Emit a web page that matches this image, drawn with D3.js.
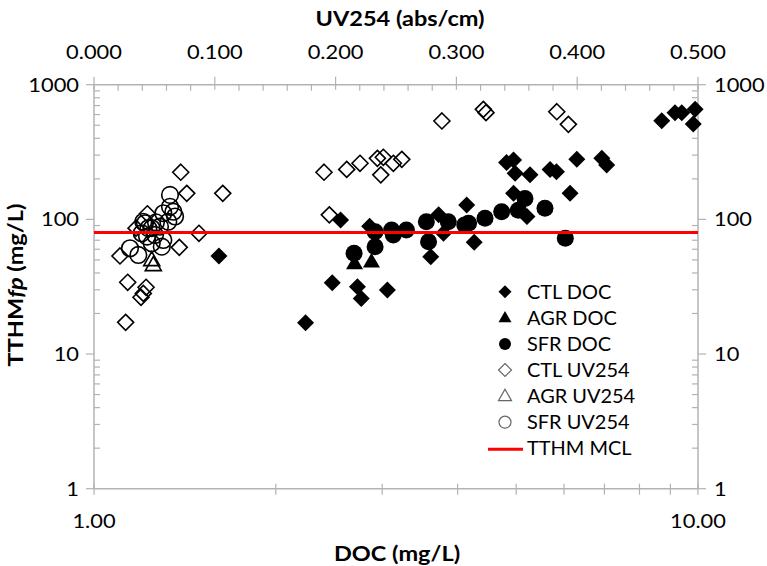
<!DOCTYPE html>
<html><head><meta charset="utf-8">
<script src="https://cdn.jsdelivr.net/npm/d3@7"></script>
<style>
html,body{margin:0;padding:0;background:#fff;}
svg{display:block;font-family:Lato,"Open Sans",sans-serif;}
</style></head>
<body><svg id="c" width="767" height="566"></svg>
<script>
// ---- data ----
const ctlDocX = [1.61,2.24,2.48,2.56,2.73,2.77,2.86,3.06,3.72,3.79,3.61,4.14,4.26,4.82,4.95,4.98,5.27,5.69,5.83,6.30,6.93,7.06,4.95,5.21,6.14,8.71,9.16,9.40,9.89,9.82];
const ctlDocY = [53.5,17.1,33.9,99,31.6,25.9,89,29.9,108,78.8,52.8,128,67.5,264,276,220,214,235,226,279,284,253,156,105,156,540,620,620,656,511];
const agrDocX = [2.70,2.88];
const agrDocY = [47.2,48.5];
const sfrDocX = [2.695,2.92,2.92,3.11,3.13,3.29,3.55,3.58,3.86,4.17,4.11,4.44,4.73,5.04,5.17,5.58,6.03];
const sfrDocY = [56,62.7,81,83.4,76.6,83.4,96,68.3,96,93.5,91,102,114,117,143,121,72.4];
const ctlUvX = [0.1904,0.1948,0.2092,0.2202,0.2346,0.2395,0.2374,0.2478,0.2548,0.288,0.3223,0.3245,0.3831,0.3927,0.0718,0.0768,0.1066,0.0869,0.0706,0.0215,0.0279,0.0431,0.0408,0.0389,0.0262,0.0442,0.0348];
const ctlUvY = [224,108,235,261,284,289,214,261,279,538,656,620,630,508,224,156,156,78.8,62,53.5,34.1,31.3,28.2,26.4,17.2,110,86];
const agrUvX = [0.0478,0.0491];
const agrUvY = [49.9,45.8];
const sfrUvX = [0.0629,0.0629,0.0657,0.0574,0.0422,0.0478,0.0546,0.0615,0.0395,0.0505,0.0574,0.0298,0.0367,0.0478,0.0561,0.0671,0.0408,0.0450,0.0513,0.0439];
const sfrUvY = [152,124,114,111,93.5,86,88.3,96,78.8,76.6,70.3,61,54.4,66.4,62.7,105,96,86,95,74.5];
const mcl = 80;
const legendLabels = ["CTL DOC","AGR DOC","SFR DOC","CTL UV254","AGR UV254","SFR UV254","TTHM MCL"];
const docTicks = [1,10];
const uvTicks = [0,0.1,0.2,0.3,0.4,0.5];
const yTicks = [1,10,100,1000];

// ---- layout ----
const L=94,R=698,T=84.7,B=488.7;
const xDoc = d3.scaleLog().domain([1,10]).range([L,R]);
const xUv = d3.scaleLinear().domain([0,0.5]).range([L,R]);
const y = d3.scaleLog().domain([1,1000]).range([B,T]);
const svg = d3.select("#c");
const axisCol = "#b3b3b3";
const fs = 19.5, sx = 1.12;

function txt(parent,x,yy,s,opts){
  const t = parent.append("text")
    .attr("transform",`translate(${x},${yy}) ${opts.rot?"rotate(-90) ":""}scale(${opts.sx||sx},1)`)
    .attr("text-anchor",opts.anchor||"middle")
    .attr("font-size",opts.fs||fs)
    .attr("fill","#000");
  if(opts.dy) t.attr("dy",opts.dy);
  if(opts.bold) t.attr("font-weight","bold");
  if(s!==null) t.text(s);
  return t;
}

const g = svg.append("g");
[[L,T,R,T],[L,B,R,B],[L,T,L,B],[R,T,R,B]].forEach(d=>g.append("line")
 .attr("x1",d[0]).attr("y1",d[1]).attr("x2",d[2]).attr("y2",d[3])
 .attr("stroke",axisCol).attr("stroke-width",1.5));

const yMinor=[];
for(let e=0;e<3;e++) for(let k=2;k<=9;k++) yMinor.push(k*Math.pow(10,e));
yMinor.forEach(v=>{
  g.append("line").attr("x1",L).attr("x2",L+6).attr("y1",y(v)).attr("y2",y(v)).attr("stroke",axisCol).attr("stroke-width",1.2);
  g.append("line").attr("x1",R-6).attr("x2",R).attr("y1",y(v)).attr("y2",y(v)).attr("stroke",axisCol).attr("stroke-width",1.2);
});
yTicks.forEach(v=>{
  g.append("line").attr("x1",L-8).attr("x2",L).attr("y1",y(v)).attr("y2",y(v)).attr("stroke",axisCol).attr("stroke-width",1.2);
  g.append("line").attr("x1",R).attr("x2",R+8).attr("y1",y(v)).attr("y2",y(v)).attr("stroke",axisCol).attr("stroke-width",1.2);
  txt(g,L-15,y(v),d3.format("d")(v),{anchor:"end",dy:"0.35em"});
  txt(g,R+16,y(v),d3.format("d")(v),{anchor:"start",dy:"0.35em"});
});
for(let k=1;k<=10;k++){
  g.append("line").attr("x1",xDoc(k)).attr("x2",xDoc(k)).attr("y1",B-5).attr("y2",B+6).attr("stroke",axisCol).attr("stroke-width",1.2);
}
docTicks.forEach(v=>txt(g,xDoc(v),528,d3.format(".2f")(v),{}));
for(let i=0;i<=25;i++){
  const v=i*0.02;
  if(i%5===0) g.append("line").attr("x1",xUv(v)).attr("x2",xUv(v)).attr("y1",T-8).attr("y2",T+5).attr("stroke",axisCol).attr("stroke-width",1.2);
  else g.append("line").attr("x1",xUv(v)).attr("x2",xUv(v)).attr("y1",T).attr("y2",T+6).attr("stroke",axisCol).attr("stroke-width",1.2);
}
uvTicks.forEach(v=>txt(g,xUv(v),59,d3.format(".3f")(v),{}));

// titles
txt(svg,400,26,"UV254 (abs/cm)",{bold:true,fs:21});
txt(svg,397,561,"DOC (mg/L)",{bold:true,fs:21});
const yt = txt(svg,23,285,null,{bold:true,fs:21,rot:true});
yt.append("tspan").text("TTHM");
yt.append("tspan").attr("font-style","italic").text("fp");
yt.append("tspan").text(" (mg/L)");

// symbols
function diamond(r){return `M0,${-r}L${r},0L0,${r}L${-r},0Z`;}
function tri(w){const h=w*0.87;return `M0,${-h*0.6}L${w/2},${h*0.4}L${-w/2},${h*0.4}Z`;}
function circ(r){return `M${r},0A${r},${r} 0 1,1 ${-r},0A${r},${r} 0 1,1 ${r},0Z`;}

function series(xs,ys,xScale,path,filled){
  const pts = xs.map((x,i)=>[x,ys[i]]);
  svg.append("g").selectAll("path").data(pts).join("path")
    .attr("transform",d=>`translate(${xScale(d[0])},${y(d[1])})`)
    .attr("d",path)
    .attr("fill",filled?"#000":"none")
    .attr("stroke","#000").attr("stroke-width",filled?0:1.6);
}
series(ctlDocX,ctlDocY,xDoc,diamond(8.5),true);
series(agrDocX,agrDocY,xDoc,tri(17),true);
series(sfrDocX,sfrDocY,xDoc,circ(8.5),true);
series(ctlUvX,ctlUvY,xUv,diamond(8),false);
series(agrUvX,agrUvY,xUv,tri(16),false);
series(sfrUvX,sfrUvY,xUv,circ(8.3),false);

svg.append("line").attr("x1",L).attr("x2",R).attr("y1",y(mcl)).attr("y2",y(mcl)).attr("stroke","#ff0000").attr("stroke-width",3);

// legend
const lx=505, ly0=291.7, dy=26.1;
const legPaths=[[diamond(6.5),true],[tri(13),true],[circ(6),true],[diamond(6.5),false],[tri(13),false],[circ(6),false]];
legendLabels.forEach((lab,i)=>{
  const yy=ly0+i*dy;
  if(i<6){
    svg.append("path").attr("transform",`translate(${lx},${yy})`).attr("d",legPaths[i][0])
      .attr("fill",legPaths[i][1]?"#000":"none").attr("stroke",legPaths[i][1]?"none":"#666").attr("stroke-width",1.2);
  } else {
    svg.append("line").attr("x1",488).attr("x2",523).attr("y1",yy+1).attr("y2",yy+1).attr("stroke","#ff0000").attr("stroke-width",3);
  }
  txt(svg,527,yy,lab,{anchor:"start",dy:"0.36em",fs:19,sx:1.05});
});
</script></body></html>
